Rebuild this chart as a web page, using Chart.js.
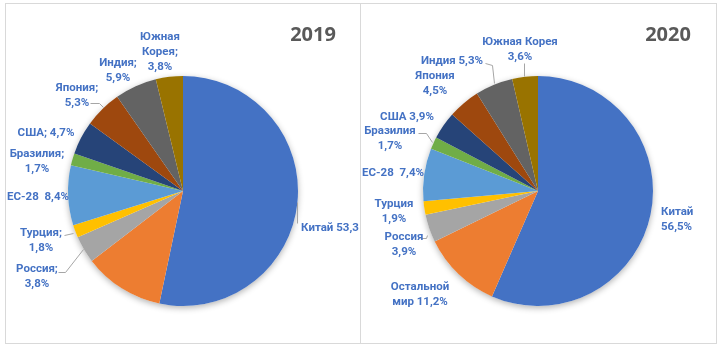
<!DOCTYPE html>
<html>
<head>
<meta charset="utf-8">
<script src="https://cdn.jsdelivr.net/npm/chart.js@4/dist/chart.umd.min.js"></script>
<style>
    body { margin: 0; background: #fff; }
    #frame { position: absolute; left: 5px; top: 3px; width: 710px; height: 339px; border: 1px solid #D9D9D9; }
    #sep { position: absolute; left: 360px; top: 3px; width: 1px; height: 341px; background: #D9D9D9; }
    canvas { position: absolute; top: 4px; }
</style>
</head>
<body>
<div id="frame"></div>
<div id="sep"></div>
<canvas id="pie2019" width="354" height="339" style="left:6px"></canvas>
<canvas id="pie2020" width="354" height="339" style="left:361px"></canvas>

<script>
// ------------------------------------------- Data --------------------------------------------------

const categories = ['Китай', 'Остальной мир', 'Россия', 'Турция', 'ЕС-28', 'Бразилия', 'США', 'Япония', 'Индия', 'Южная Корея']
const values2019 = [53.3, 11.3, 3.8, 1.8, 8.4, 1.7, 4.7, 5.3, 5.9, 3.8]
const values2020 = [56.5, 11.2, 3.9, 1.9, 7.4, 1.7, 3.9, 4.5, 5.3, 3.6]

// label text, as printed on the picture (2019 has no label for the orange slice)
const labels2019 = [['Китай 53,3'], [], ['Россия;', '3,8%'], ['Турция;', '1,8%'], ['ЕС-28  8,4%'],
    ['Бразилия;', '1,7%'], ['США; 4,7%'], ['Япония;', '5,3%'], ['Индия;', '5,9%'], ['Южная', 'Корея;', '3,8%']]
const labels2020 = [['Китай', '56,5%'], ['Остальной', 'мир 11,2%'], ['Россия', '3,9%'], ['Турция', '1,9%'], ['ЕС-28  7,4%'],
    ['Бразилия', '1,7%'], ['США 3,9%'], ['Япония', '4,5%'], ['Индия 5,3%'], ['Южная Корея', '3,6%']]

const colors = ['#4472C4', '#ED7D31', '#A5A5A5', '#FFC000', '#5B9BD5', '#70AD47', '#264478', '#9E480E', '#636363', '#997300']

// ------------------------------------------- Label layout --------------------------------------------------
// [dx, dy of first line, align] relative to the pie centre

const place2019 = [[118, 37, 'left'], null, [-146, 78], [-142, 42], [-145, 6], [-146, -37], [-137, -58], [-106, -103], [-65, -128], [-23, -154]]
const place2020 = [[123, 21, 'left'], [-118, 96], [-134, 46], [-144, 13], [-145, -18], [-148, -60], [-131, -74], [-103, -115], [-86, -130], [-18, -149]]

const leaders2019 = [[[114, 11], [114, 32]], [[-93, -88], [-84, -88], [-80, -84]], [[-119, 44], [-110, 42]], [[-125, 81], [-118, 81], [-100, 58]]]
const leaders2020 = [[[-14, -128], [-14, -115]], [[-53, -128], [-46, -126], [-44, -108]], [[-120, -58], [-112, -58], [-106, -49]], [[-118, 47], [-112, 47], [-111, 44]]]

const labelFont = 'bold 11.5px Roboto, "Noto Sans", sans-serif'
const lineHeight = 15

// shadow under the pie
const pieShadow = {
    id: 'pieShadow',
    beforeDatasetsDraw(chart) {
        const arc = chart.getDatasetMeta(0).data[0]
        const ctx = chart.ctx
        ctx.save()
        ctx.shadowColor = 'rgba(0,0,0,0.3)'
        ctx.shadowBlur = 6
        ctx.shadowOffsetY = 2
        ctx.fillStyle = '#fff'
        ctx.beginPath()
        ctx.arc(arc.x, arc.y, arc.outerRadius, 0, Math.PI * 2)
        ctx.fill()
        ctx.restore()
    }
}

// data labels, leader lines and the year
const pieLabels = {
    id: 'pieLabels',
    afterDatasetsDraw(chart, args, opts) {
        const arc = chart.getDatasetMeta(0).data[0]
        const cx = arc.x, cy = arc.y
        const ctx = chart.ctx
        ctx.save()

        ctx.strokeStyle = '#A6A6A6'
        ctx.lineWidth = 1
        opts.leaders.forEach(pts => {
            ctx.beginPath()
            pts.forEach((p, i) => {
                if (i === 0) ctx.moveTo(cx + p[0] + 0.5, cy + p[1] + 0.5)
                else ctx.lineTo(cx + p[0] + 0.5, cy + p[1] + 0.5)
            })
            ctx.stroke()
        })

        ctx.font = labelFont
        ctx.fillStyle = '#4472C4'
        ctx.textBaseline = 'middle'
        opts.texts.forEach((lines, i) => {
            const p = opts.places[i]
            if (!p) return
            ctx.textAlign = p[2] || 'center'
            lines.forEach((t, j) => ctx.fillText(t, cx + p[0], cy + p[1] + j * lineHeight))
        })

        ctx.font = 'bold 20px "Open Sans", "Noto Sans", sans-serif'
        ctx.fillStyle = '#595959'
        ctx.textAlign = 'center'
        ctx.fillText(opts.year, cx + 130, cy - 156)
        ctx.restore()
    }
}

function makePie(id, values, texts, places, leaders, year) {
    return new Chart(document.getElementById(id), {
        type: 'pie',
        data: {
            labels: categories,
            datasets: [{
                data: values,
                backgroundColor: colors,
                borderWidth: 0
            }]
        },
        options: {
            responsive: false,
            animation: false,
            layout: { padding: { left: 62, right: 62, top: 72, bottom: 37 } },
            plugins: {
                legend: { display: false },
                tooltip: { enabled: false },
                pieLabels: { texts: texts, places: places, leaders: leaders, year: year }
            }
        },
        plugins: [pieShadow, pieLabels]
    })
}

makePie('pie2019', values2019, labels2019, place2019, leaders2019, '2019')
makePie('pie2020', values2020, labels2020, place2020, leaders2020, '2020')
</script>
</body>
</html>
